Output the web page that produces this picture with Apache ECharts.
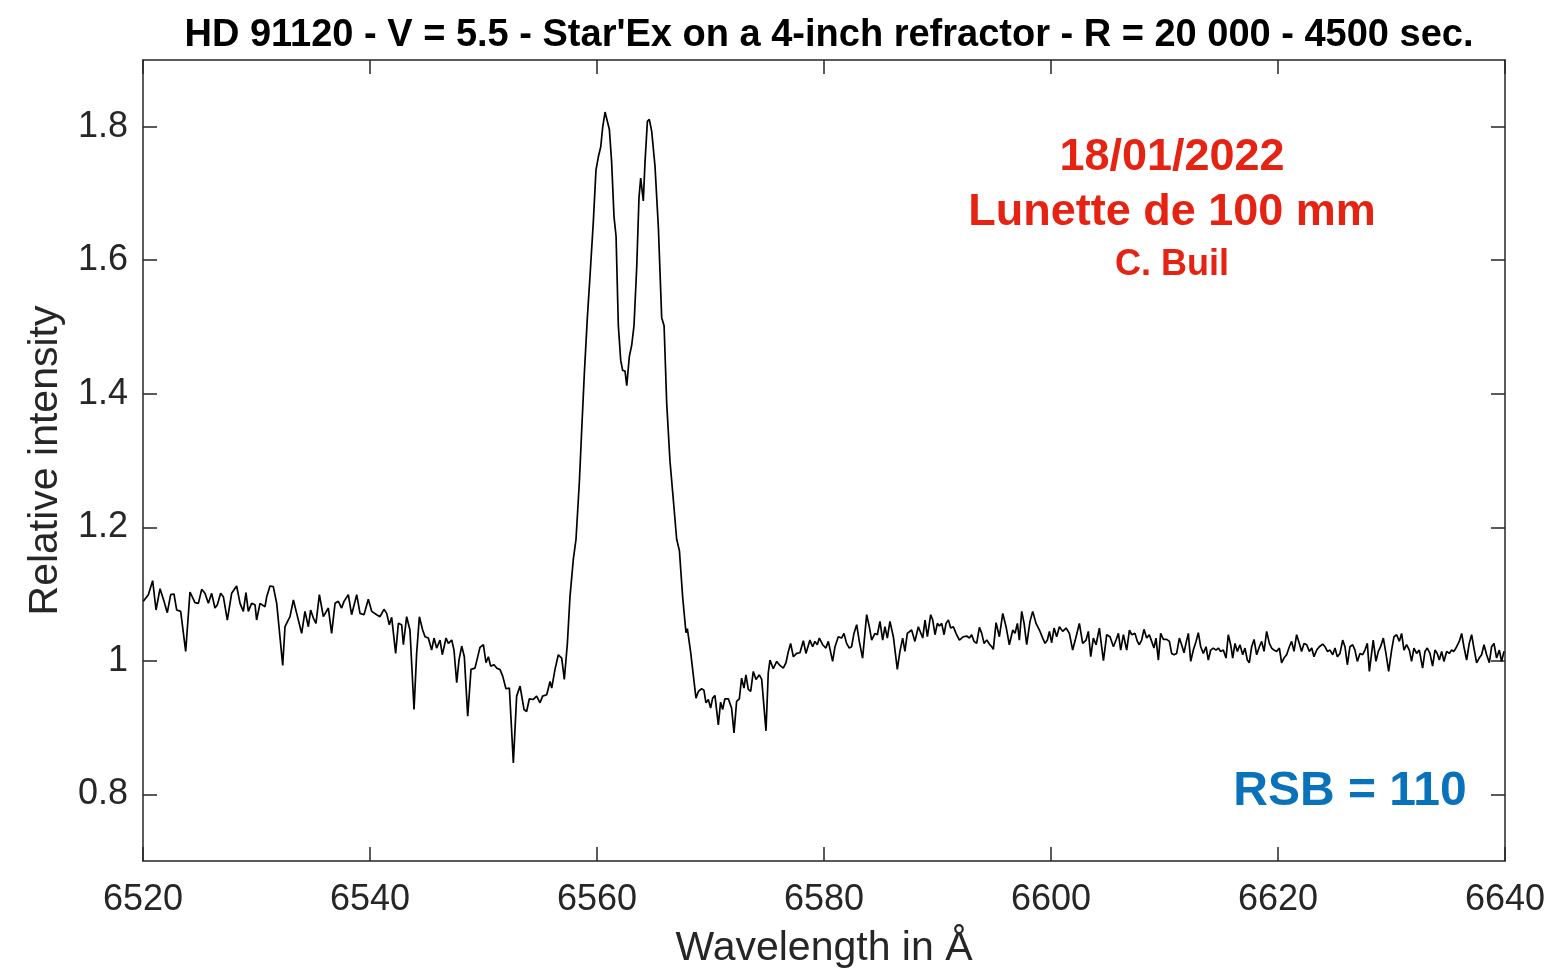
<!DOCTYPE html>
<html>
<head>
<meta charset="utf-8">
<title>HD 91120 spectrum</title>
<script src="https://cdn.jsdelivr.net/npm/echarts@6/dist/echarts.min.js"></script>
<style>
  html, body { margin: 0; padding: 0; background: #fff; }
  #chart { width: 1558px; height: 974px; }
</style>
</head>
<body>
<div id="chart"></div>
<script>
// wavelength (Angstrom) and relative intensity
var wavelength = [
  // 6520 - 6541
  6520.03, 6520.47, 6520.85, 6521.15, 6521.50, 6521.85, 6522.14, 6522.44, 6522.73, 6522.97,
  6523.32, 6523.76, 6524.14, 6524.58, 6524.88, 6525.17, 6525.46, 6525.76, 6526.05, 6526.34,
  6526.55, 6526.84, 6527.08, 6527.43, 6527.81, 6528.25, 6528.55, 6528.84, 6529.07, 6529.28,
  6529.57, 6529.87, 6530.01, 6530.31, 6530.75, 6530.90, 6531.19, 6531.48, 6531.78, 6532.31,
  6532.51, 6532.95, 6533.25, 6533.54, 6533.98, 6534.27, 6534.57, 6534.77, 6535.01, 6535.24,
  6535.54, 6535.89, 6536.33, 6536.62, 6536.92, 6537.21, 6537.50, 6537.71, 6538.09, 6538.38,
  6538.83, 6539.12, 6539.47, 6539.85, 6540.15, 6540.59, 6540.88,
  // 6541 - 6558
  6541.03, 6541.23, 6541.47, 6541.70, 6541.91, 6542.26, 6542.50, 6542.79, 6542.94, 6543.23,
  6543.52, 6543.88, 6544.11, 6544.35, 6544.64, 6544.85, 6545.14, 6545.43, 6545.64, 6545.87,
  6546.17, 6546.37, 6546.70, 6546.90, 6547.20, 6547.40, 6547.64, 6547.84, 6548.08, 6548.31,
  6548.61, 6548.90, 6549.25, 6549.69, 6549.99, 6550.22, 6550.43, 6550.63, 6550.93, 6551.16,
  6551.45, 6551.69, 6551.98, 6552.28, 6552.63, 6552.92, 6553.22, 6553.57, 6553.80, 6554.04,
  6554.39, 6554.68, 6554.98, 6555.21, 6555.57, 6555.86, 6556.01, 6556.30, 6556.59, 6556.89,
  6557.12, 6557.39, 6557.62,
  // H-alpha emission
  6557.92, 6558.15, 6558.45, 6558.65, 6558.89, 6559.15, 6559.39, 6559.68, 6559.91, 6560.12,
  6560.33, 6560.50, 6560.71, 6561.09, 6561.29, 6561.50, 6561.68, 6561.88, 6562.09, 6562.26,
  6562.47, 6562.62, 6562.85, 6563.06, 6563.26, 6563.50, 6563.70, 6563.85, 6564.08, 6564.23,
  6564.44, 6564.61, 6564.82, 6565.11, 6565.41, 6565.70, 6565.91, 6566.14, 6566.43, 6566.73,
  6567.02, 6567.26, 6567.55, 6567.84, 6567.96, 6568.25,
  // 6568 - 6588
  6568.72, 6568.93, 6569.22, 6569.42, 6569.60, 6569.81, 6570.01, 6570.19, 6570.39, 6570.69,
  6570.89, 6571.07, 6571.27, 6571.57, 6571.86, 6572.07, 6572.30, 6572.54, 6572.74, 6572.95,
  6573.12, 6573.33, 6573.54, 6573.77, 6574.01, 6574.30, 6574.51, 6574.89, 6575.09, 6575.24,
  6575.53, 6575.83, 6576.12, 6576.41, 6576.65, 6576.86, 6577.06, 6577.30, 6577.59, 6577.88,
  6578.18, 6578.41, 6578.76, 6579.00, 6579.20, 6579.41, 6579.59, 6579.88, 6580.17, 6580.38,
  6580.76, 6580.97, 6581.26, 6581.55, 6581.76, 6581.99, 6582.23, 6582.43, 6582.64, 6582.88,
  6583.11, 6583.40, 6583.76, 6583.99, 6584.20, 6584.49, 6584.70, 6584.93, 6585.17, 6585.37,
  6585.58, 6585.81, 6586.11, 6586.46, 6586.69, 6586.93, 6587.13, 6587.34, 6587.72, 6588.01,
  6588.31,
  // 6588 - 6608
  6588.70, 6588.90, 6589.11, 6589.40, 6589.58, 6589.78, 6589.99, 6590.17, 6590.37, 6590.58,
  6590.75, 6590.96, 6591.16, 6591.40, 6591.63, 6591.93, 6592.28, 6592.57, 6592.81, 6593.01,
  6593.22, 6593.45, 6593.69, 6593.90, 6594.10, 6594.34, 6594.57, 6594.78, 6594.92, 6595.16,
  6595.45, 6595.75, 6596.04, 6596.33, 6596.63, 6596.83, 6597.04, 6597.21, 6597.42, 6597.63,
  6597.86, 6598.15, 6598.39, 6598.68, 6598.98, 6599.27, 6599.48, 6599.68, 6599.86, 6600.06,
  6600.27, 6600.50, 6600.74, 6601.03, 6601.33, 6601.62, 6601.91, 6602.21, 6602.50, 6602.79,
  6603.09, 6603.29, 6603.50, 6603.73, 6603.97, 6604.26, 6604.62, 6604.91, 6605.20, 6605.50,
  6605.73, 6605.94, 6606.14, 6606.38, 6606.67, 6606.91, 6607.11, 6607.40, 6607.61,
  // 6608 - 6628
  6607.78, 6607.99, 6608.19, 6608.43, 6608.66, 6608.87, 6609.07, 6609.25, 6609.46, 6609.66,
  6609.90, 6610.19, 6610.43, 6610.63, 6610.84, 6611.07, 6611.31, 6611.51, 6611.72, 6611.89,
  6612.10, 6612.31, 6612.54, 6612.78, 6612.98, 6613.19, 6613.42, 6613.66, 6613.86, 6614.07,
  6614.30, 6614.54, 6614.74, 6614.95, 6615.18, 6615.42, 6615.62, 6615.83, 6616.01, 6616.21,
  6616.42, 6616.65, 6616.89, 6617.09, 6617.30, 6617.47, 6617.68, 6617.89, 6618.12, 6618.36,
  6618.56, 6618.77, 6619.00, 6619.24, 6619.44, 6619.65, 6619.88, 6620.12, 6620.32, 6620.53,
  6620.76, 6621.00, 6621.20, 6621.41, 6621.64, 6621.88, 6622.08, 6622.29, 6622.53, 6622.76,
  6622.97, 6623.17, 6623.41, 6623.64, 6623.94, 6624.14, 6624.35, 6624.58, 6624.82, 6625.02,
  6625.23, 6625.46, 6625.70, 6625.90, 6626.11, 6626.34, 6626.58, 6626.78, 6626.99, 6627.22,
  6627.46, 6627.66, 6627.87, 6628.05,
  // 6628 - 6640
  6628.39, 6628.63, 6628.84, 6629.04, 6629.28, 6629.51, 6629.75, 6630.01, 6630.22, 6630.45,
  6630.69, 6630.89, 6631.10, 6631.33, 6631.57, 6631.77, 6631.98, 6632.21, 6632.45, 6632.74,
  6632.95, 6633.15, 6633.39, 6633.62, 6633.83, 6634.03, 6634.21, 6634.42, 6634.62, 6634.86,
  6635.09, 6635.30, 6635.50, 6635.74, 6635.97, 6636.18, 6636.38, 6636.62, 6636.85, 6637.06,
  6637.26, 6637.50, 6637.73, 6637.94, 6638.15, 6638.38, 6638.62, 6638.82, 6639.03, 6639.26,
  6639.50, 6639.70, 6639.91
];

var intensity = [
  // 6520 - 6541
  1.089, 1.099, 1.120, 1.076, 1.108, 1.089, 1.072, 1.099, 1.100, 1.076,
  1.074, 1.014, 1.103, 1.087, 1.086, 1.107, 1.101, 1.086, 1.101, 1.079,
  1.084, 1.101, 1.096, 1.061, 1.101, 1.112, 1.086, 1.074, 1.102, 1.074,
  1.086, 1.084, 1.061, 1.086, 1.081, 1.096, 1.112, 1.111, 1.086, 0.993,
  1.051, 1.066, 1.091, 1.071, 1.041, 1.074, 1.051, 1.076, 1.064, 1.056,
  1.099, 1.066, 1.079, 1.041, 1.086, 1.089, 1.079, 1.089, 1.099, 1.069,
  1.099, 1.071, 1.069, 1.092, 1.074, 1.069, 1.066,
  // 6541 - 6558
  1.066, 1.077, 1.071, 1.054, 1.065, 1.011, 1.056, 1.054, 1.024, 1.066,
  1.046, 0.927, 1.011, 1.066, 1.046, 1.036, 1.034, 1.016, 1.034, 1.019,
  1.031, 1.009, 1.034, 1.026, 1.031, 1.016, 0.967, 1.001, 1.022, 1.006,
  0.917, 0.987, 0.989, 1.020, 1.024, 0.997, 1.006, 0.992, 0.994, 0.989,
  0.987, 0.977, 0.958, 0.959, 0.847, 0.947, 0.962, 0.927, 0.924, 0.943,
  0.942, 0.947, 0.937, 0.947, 0.949, 0.969, 0.959, 0.987, 1.009, 1.004,
  0.972, 1.026, 1.096,
  // H-alpha emission
  1.153, 1.182, 1.269, 1.345, 1.432, 1.514, 1.578, 1.659, 1.735, 1.755,
  1.770, 1.799, 1.822, 1.796, 1.747, 1.665, 1.636, 1.502, 1.450, 1.435,
  1.434, 1.412, 1.456, 1.473, 1.502, 1.590, 1.694, 1.723, 1.689, 1.747,
  1.808, 1.811, 1.793, 1.741, 1.648, 1.514, 1.502, 1.386, 1.299, 1.240,
  1.182, 1.165, 1.095, 1.042, 1.048, 1.013,
  // 6568 - 6588
  0.944, 0.954, 0.958, 0.956, 0.937, 0.942, 0.929, 0.944, 0.948, 0.904,
  0.938, 0.927, 0.943, 0.943, 0.929, 0.892, 0.939, 0.943, 0.974, 0.959,
  0.979, 0.957, 0.954, 0.984, 0.972, 0.979, 0.972, 0.895, 0.982, 1.001,
  0.988, 0.999, 0.993, 0.989, 0.997, 1.014, 1.026, 1.006, 1.011, 1.012,
  1.030, 1.011, 1.031, 1.021, 1.029, 1.024, 1.034, 1.024, 1.019, 1.029,
  0.999, 1.021, 1.036, 1.034, 1.041, 1.026, 1.019, 1.021, 1.041, 1.054,
  1.029, 1.004, 1.069, 1.051, 1.031, 1.041, 1.039, 1.059, 1.031, 1.051,
  1.034, 1.059, 1.036, 0.987, 1.014, 1.034, 1.014, 1.041, 1.046, 1.029,
  1.051,
  // 6588 - 6608
  1.034, 1.061, 1.036, 1.069, 1.061, 1.039, 1.056, 1.052, 1.056, 1.039,
  1.056, 1.061, 1.049, 1.051, 1.041, 1.031, 1.036, 1.037, 1.034, 1.039,
  1.029, 1.026, 1.050, 1.041, 1.026, 1.031, 1.025, 1.021, 1.017, 1.057,
  1.036, 1.071, 1.051, 1.024, 1.046, 1.041, 1.056, 1.031, 1.074, 1.056,
  1.024, 1.059, 1.074, 1.056, 1.046, 1.034, 1.026, 1.031, 1.044, 1.027,
  1.049, 1.036, 1.051, 1.044, 1.049, 1.041, 1.016, 1.036, 1.056, 1.026,
  1.031, 1.044, 1.006, 1.034, 1.024, 1.049, 1.000, 1.039, 1.036, 1.021,
  1.031, 1.041, 1.016, 1.039, 1.016, 1.046, 1.039, 1.041, 1.029,
  // 6608 - 6628
  1.024, 1.031, 1.047, 1.034, 1.039, 1.029, 1.019, 1.034, 1.001, 1.041,
  1.032, 1.032, 1.029, 1.011, 1.009, 1.011, 1.034, 1.024, 1.012, 1.026,
  1.041, 0.999, 1.016, 1.029, 1.042, 1.021, 1.011, 1.021, 1.001, 1.016,
  1.019, 1.016, 1.019, 1.014, 1.016, 1.004, 1.039, 1.024, 1.004, 1.026,
  1.014, 1.024, 1.009, 1.019, 1.001, 0.997, 1.021, 1.032, 1.009, 1.021,
  1.029, 1.014, 1.044, 1.026, 1.019, 1.016, 1.014, 1.019, 0.997, 1.004,
  1.009, 1.021, 1.029, 1.014, 1.039, 1.026, 1.014, 1.026, 1.024, 1.014,
  1.019, 1.006, 1.016, 1.021, 1.025, 1.021, 1.014, 1.016, 1.009, 1.019,
  1.006, 1.011, 1.031, 1.021, 0.994, 1.021, 1.024, 1.016, 0.999, 1.011,
  1.009, 1.016, 1.026, 0.984,
  // 6628 - 6640
  1.031, 0.999, 1.014, 1.021, 1.034, 1.011, 0.984, 1.016, 1.036, 1.039,
  1.029, 1.041, 1.016, 1.024, 1.016, 0.999, 1.019, 1.011, 1.016, 0.989,
  1.014, 1.019, 1.011, 0.992, 1.016, 1.011, 1.001, 1.014, 0.999, 1.014,
  1.011, 1.016, 1.014, 1.021, 1.029, 1.041, 1.021, 1.001, 1.026, 1.039,
  1.019, 0.997, 1.004, 1.009, 1.024, 1.009, 0.997, 1.021, 1.026, 1.004,
  1.016, 0.999, 1.014
];

var yTickValues = [0.8, 1, 1.2, 1.4, 1.6, 1.8];

var titleText = "HD 91120 - V = 5.5 - Star'Ex on a 4-inch refractor - R = 20 000 - 4500 sec.";
var noteLines = ['18/01/2022', 'Lunette de 100 mm', 'C. Buil'];
var snrText = 'RSB = 110';

var FONT = '"Liberation Sans", Arial, Helvetica, sans-serif';
var AXIS_COLOR = '#262626';

var points = wavelength.map(function (w, i) {
  return [w, intensity[i]];
});

var chart = echarts.init(document.getElementById('chart'), null, { renderer: 'canvas' });

// box axes, MATLAB style: ticks inside on all four sides
function xAxisOf(pos, withLabels) {
  return {
    type: 'value',
    position: pos,
    min: 6520,
    max: 6640,
    interval: 20,
    axisLine: { show: true, onZero: false, lineStyle: { color: AXIS_COLOR, width: 1.5 } },
    axisTick: { show: true, inside: true, length: 14, lineStyle: { color: AXIS_COLOR, width: 1.5 } },
    axisLabel: {
      show: withLabels, margin: 21, color: AXIS_COLOR,
      fontFamily: FONT, fontSize: 36,
      formatter: function (v) { return String(v); }
    },
    splitLine: { show: false },
    name: withLabels ? 'Wavelength in Å' : '',
    nameLocation: 'middle',
    nameGap: 67,
    nameTextStyle: { color: AXIS_COLOR, fontFamily: FONT, fontSize: 41 }
  };
}

function yAxisOf(pos, withLabels) {
  return {
    type: 'value',
    position: pos,
    min: 0.7,
    max: 1.9,
    axisLine: { show: true, onZero: false, lineStyle: { color: AXIS_COLOR, width: 1.5 } },
    axisTick: {
      show: true, inside: true, length: 14, customValues: yTickValues,
      lineStyle: { color: AXIS_COLOR, width: 1.5 }
    },
    axisLabel: {
      show: withLabels, margin: 15, customValues: yTickValues, color: AXIS_COLOR,
      fontFamily: FONT, fontSize: 36
    },
    splitLine: { show: false },
    name: withLabels ? 'Relative intensity' : '',
    nameLocation: 'middle',
    nameRotate: 90,
    nameGap: 77,
    nameTextStyle: { color: AXIS_COLOR, fontFamily: FONT, fontSize: 41 }
  };
}

var option = {
  backgroundColor: '#ffffff',
  animation: false,
  title: {
    text: titleText,
    left: 824,
    top: 12,
    textAlign: 'center',
    textStyle: { color: '#000', fontFamily: FONT, fontWeight: 'bold', fontSize: 38 }
  },
  grid: { left: 143, right: 53, top: 60, bottom: 112, containLabel: false },
  xAxis: [xAxisOf('bottom', true), xAxisOf('top', false)],
  yAxis: [yAxisOf('left', true), yAxisOf('right', false)],
  series: [{
    type: 'line',
    data: points,
    xAxisIndex: 0,
    yAxisIndex: 0,
    showSymbol: false,
    symbol: 'none',
    lineStyle: { color: '#000', width: 1.7 },
    silent: true
  }],
  graphic: [
    {
      type: 'text', x: 1172, y: 158,
      style: { text: noteLines[0], fill: '#e62212', font: 'bold 45px ' + FONT, textAlign: 'center', textVerticalAlign: 'middle' }
    },
    {
      type: 'text', x: 1172, y: 213,
      style: { text: noteLines[1], fill: '#e62212', font: 'bold 45px ' + FONT, textAlign: 'center', textVerticalAlign: 'middle' }
    },
    {
      type: 'text', x: 1172, y: 265,
      style: { text: noteLines[2], fill: '#e62212', font: 'bold 36px ' + FONT, textAlign: 'center', textVerticalAlign: 'middle' }
    },
    {
      type: 'text', x: 1350, y: 792,
      style: { text: snrText, fill: '#0a72ba', font: 'bold 48px ' + FONT, textAlign: 'center', textVerticalAlign: 'middle' }
    }
  ]
};

chart.setOption(option);
</script>
</body>
</html>
